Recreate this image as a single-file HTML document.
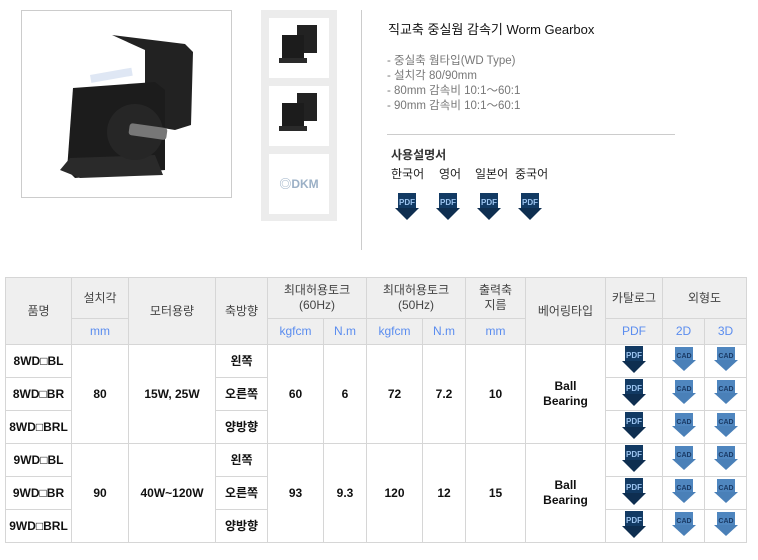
<!DOCTYPE html>
<html><head><meta charset="utf-8"><style>
body{margin:0;width:758px;height:560px;background:#fff;font-family:"Liberation Sans","Noto Sans CJK KR",sans-serif;position:relative;overflow:hidden}
.a{position:absolute}
table{position:absolute;left:5px;top:277px;border-collapse:collapse;table-layout:fixed}
td{border:1px solid #d6d6d6;text-align:center;font-size:12px;color:#222;padding:0;line-height:15px}
.h td{background:#efefef;color:#444}
.h td.u{color:#5b8def}
.b{font-weight:bold;color:#111}
.l span{position:absolute;white-space:nowrap}
</style></head><body>
<div class="a" style="left:21px;top:10px;width:209px;height:186px;border:1px solid #ccc"></div>
<svg class="a" style="left:55px;top:30px" width="150" height="150" viewBox="0 0 150 150">
<path d="M57 5 L130 14 L138 22 L136 95 L120 100 L90 95 L90 20 Z" fill="#222"/>
<path d="M18 58 L100 52 L110 60 L110 140 L20 148 L12 140 Z" fill="#1c1c1c"/>
<path d="M15 128 L100 125 L108 145 L25 148 L5 140 Z" fill="#2a2a2a"/>
<circle cx="80" cy="102" r="28" fill="#262626"/>
<rect x="75" y="93" width="38" height="12" rx="3" fill="#777" transform="rotate(8 75 93)"/>
<rect x="35" y="45" width="42" height="8" fill="#dfe7f4" transform="rotate(-10 35 45)"/>
</svg>
<div class="a" style="left:261px;top:10px;width:76px;height:211px;background:#ececec"></div>
<div class="a" style="left:269px;top:18px;width:60px;height:60px;background:#fff"></div>
<div class="a" style="left:269px;top:86px;width:60px;height:60px;background:#fff"></div>
<div class="a" style="left:269px;top:154px;width:60px;height:60px;background:#fff;color:#9bb0c6;font-weight:bold;font-size:12px;line-height:60px;text-align:center">◎DKM</div>
<svg class="a" style="left:279px;top:25px" width="40" height="45"><rect x="18" y="0" width="20" height="28" fill="#222"/><rect x="3" y="10" width="22" height="25" fill="#1c1c1c"/><rect x="0" y="33" width="28" height="5" fill="#2a2a2a"/></svg>
<svg class="a" style="left:279px;top:93px" width="40" height="45"><rect x="18" y="0" width="20" height="28" fill="#222"/><rect x="3" y="10" width="22" height="25" fill="#1c1c1c"/><rect x="0" y="33" width="28" height="5" fill="#2a2a2a"/></svg>
<div class="a" style="left:361px;top:10px;width:1px;height:240px;background:#ccc"></div>
<div class="a" style="left:388px;top:19px;font-size:13px;color:#111">직교축 중실웜 감속기 Worm Gearbox</div>
<div class="a" style="left:387px;top:54px;font-size:11.5px;color:#777;line-height:15px">- 중실축 웜타입(WD Type)<br>- 설치각 80/90mm<br>- 80mm 감속비 10:1～60:1<br>- 90mm 감속비 10:1～60:1</div>
<div class="a" style="left:387px;top:134px;width:288px;height:1px;background:#ccc"></div>
<div class="a" style="left:391px;top:146px;font-size:12px;font-weight:bold;color:#333">사용설명서</div>
<div class="a l" style="left:391px;top:165px;font-size:12px;color:#222"><span style="left:0">한국어</span><span style="left:48px">영어</span><span style="left:84px">일본어</span><span style="left:124px">중국어</span></div>
<svg width="0" height="0" style="position:absolute"><defs>
<g id="p"><rect x="3" y="0" width="18" height="16" fill="#123a63"/><path d="M0 15 L24 15 L12 27 Z" fill="#0e2e50"/><text x="12" y="12" font-size="8" font-weight="bold" fill="#9cc4f0" text-anchor="middle" font-family="Liberation Sans">PDF</text></g>
<g id="c"><rect x="3" y="0" width="18" height="14" fill="#4f86bf"/><path d="M0 13 L24 13 L12 24 Z" fill="#4a80b8"/><text x="12" y="11" font-size="7" font-weight="bold" fill="#1b3b66" text-anchor="middle" font-family="Liberation Sans">CAD</text></g>
</defs></svg>
<svg class="a" style="left:395px;top:193px" width="160" height="30"><use href="#p" x="0"/><use href="#p" x="41"/><use href="#p" x="82"/><use href="#p" x="123"/></svg>
<table>
<colgroup><col style="width:66px"><col style="width:57px"><col style="width:87px"><col style="width:52px"><col style="width:56px"><col style="width:43px"><col style="width:56px"><col style="width:43px"><col style="width:60px"><col style="width:80px"><col style="width:57px"><col style="width:42px"><col style="width:42px"></colgroup>
<tr class="h" style="height:41px"><td rowspan="2">품명</td><td>설치각</td><td rowspan="2">모터용량</td><td rowspan="2">축방향</td><td colspan="2">최대허용토크<br>(60Hz)</td><td colspan="2">최대허용토크<br>(50Hz)</td><td>출력축<br>지름</td><td rowspan="2">베어링타입</td><td>카탈로그</td><td colspan="2">외형도</td></tr>
<tr class="h" style="height:26px"><td class="u">mm</td><td class="u">kgfcm</td><td class="u">N.m</td><td class="u">kgfcm</td><td class="u">N.m</td><td class="u">mm</td><td class="u">PDF</td><td class="u">2D</td><td class="u">3D</td></tr>
<tr style="height:33px"><td class="b">8WD□BL</td><td rowspan="3" class="b">80</td><td rowspan="3" class="b">15W, 25W</td><td class="b">왼쪽</td><td rowspan="3" class="b">60</td><td rowspan="3" class="b">6</td><td rowspan="3" class="b">72</td><td rowspan="3" class="b">7.2</td><td rowspan="3" class="b">10</td><td rowspan="3" class="b">Ball<br>Bearing</td><td><svg width="24" height="27"><use href="#p"/></svg></td><td><svg width="24" height="24"><use href="#c"/></svg></td><td><svg width="24" height="24"><use href="#c"/></svg></td></tr>
<tr style="height:33px"><td class="b">8WD□BR</td><td class="b">오른쪽</td><td><svg width="24" height="27"><use href="#p"/></svg></td><td><svg width="24" height="24"><use href="#c"/></svg></td><td><svg width="24" height="24"><use href="#c"/></svg></td></tr>
<tr style="height:33px"><td class="b">8WD□BRL</td><td class="b">양방향</td><td><svg width="24" height="27"><use href="#p"/></svg></td><td><svg width="24" height="24"><use href="#c"/></svg></td><td><svg width="24" height="24"><use href="#c"/></svg></td></tr>
<tr style="height:33px"><td class="b">9WD□BL</td><td rowspan="3" class="b">90</td><td rowspan="3" class="b">40W~120W</td><td class="b">왼쪽</td><td rowspan="3" class="b">93</td><td rowspan="3" class="b">9.3</td><td rowspan="3" class="b">120</td><td rowspan="3" class="b">12</td><td rowspan="3" class="b">15</td><td rowspan="3" class="b">Ball<br>Bearing</td><td><svg width="24" height="27"><use href="#p"/></svg></td><td><svg width="24" height="24"><use href="#c"/></svg></td><td><svg width="24" height="24"><use href="#c"/></svg></td></tr>
<tr style="height:33px"><td class="b">9WD□BR</td><td class="b">오른쪽</td><td><svg width="24" height="27"><use href="#p"/></svg></td><td><svg width="24" height="24"><use href="#c"/></svg></td><td><svg width="24" height="24"><use href="#c"/></svg></td></tr>
<tr style="height:33px"><td class="b">9WD□BRL</td><td class="b">양방향</td><td><svg width="24" height="27"><use href="#p"/></svg></td><td><svg width="24" height="24"><use href="#c"/></svg></td><td><svg width="24" height="24"><use href="#c"/></svg></td></tr>
</table>
</body></html>
